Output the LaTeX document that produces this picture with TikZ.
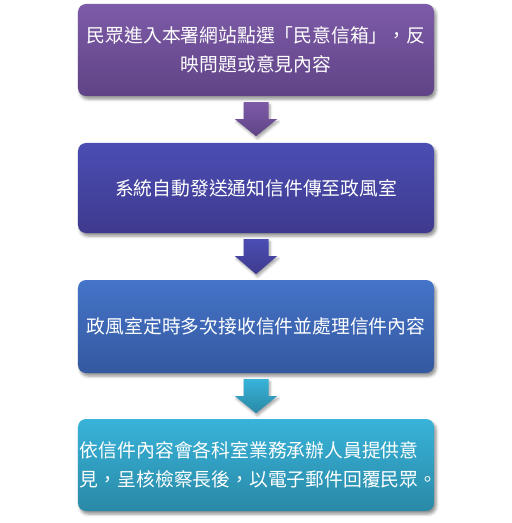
\documentclass[tikz,border=0pt]{standalone}
\usepackage{fontspec}
\newfontfamily\cjk{Noto Sans CJK TC}
\usetikzlibrary{calc,shadows.blur}
\definecolor{pTop}{HTML}{7E5BA8}\definecolor{pBot}{HTML}{5F4386}
\definecolor{iTop}{HTML}{4B4DB3}\definecolor{iBot}{HTML}{3E3A8E}
\definecolor{bTop}{HTML}{4574C8}\definecolor{bBot}{HTML}{3458A0}
\definecolor{cTop}{HTML}{38B3D9}\definecolor{cBot}{HTML}{2A89A6}
\begin{document}
\begin{tikzpicture}[x=1bp,y=-1bp,
  stepbox/.style={rounded corners=8bp, minimum width=356bp, text width=352bp,
    inner xsep=2bp, inner ysep=0pt, text=white,
    font=\cjk\fontsize{18.8bp}{29.5bp}\selectfont,
    blur shadow={shadow xshift=2bp, shadow yshift=-3bp, shadow blur radius=3bp, shadow opacity=45}},
  downarrow/.style={blur shadow={shadow xshift=1.5bp, shadow yshift=-2.5bp, shadow blur radius=2.5bp, shadow opacity=35}}]
\useasboundingbox (0,0) rectangle (512,523);

\node[stepbox, align=center, minimum height=92bp, top color=pTop, bottom color=pBot] (b1) at (256,50)
  {民眾進入本署網站點選「民意信箱」，反\\映問題或意見內容};
\node[stepbox, align=center, minimum height=90bp, top color=iTop, bottom color=iBot] (b2) at (256,188)
  {系統自動發送通知信件傳至政風室};
\node[stepbox, align=center, minimum height=93bp, top color=bTop, bottom color=bBot] (b3) at (256,326.5)
  {政風室定時多次接收信件並處理信件內容};
\node[stepbox, align=left, minimum height=92bp, top color=cTop, bottom color=cBot] (b4) at (256,465)
  {依信件內容會各科室業務承辦人員提供意\\見，呈核檢察長後，以電子郵件回覆民眾。};

% block arrows between the boxes
\path[downarrow, top color=pTop, bottom color=pBot]
  ($(b1.south)+(-12.5,6)$) -- ++(25,0) -- ++(0,17) -- ++(8.5,0)
  -- ($(b1.south)+(0,40)$) -- ($(b1.south)+(-21,23)$) -- ++(8.5,0) -- cycle;
\path[downarrow, top color=iTop, bottom color=iBot]
  ($(b2.south)+(-12.5,6)$) -- ++(25,0) -- ++(0,17) -- ++(8.5,0)
  -- ($(b2.south)+(0,41)$) -- ($(b2.south)+(-21,23)$) -- ++(8.5,0) -- cycle;
\path[downarrow, top color=cTop, bottom color=cBot]
  ($(b3.south)+(-12.5,6)$) -- ++(25,0) -- ++(0,17) -- ++(8.5,0)
  -- ($(b3.south)+(0,40)$) -- ($(b3.south)+(-21,23)$) -- ++(8.5,0) -- cycle;
\end{tikzpicture}
\end{document}
